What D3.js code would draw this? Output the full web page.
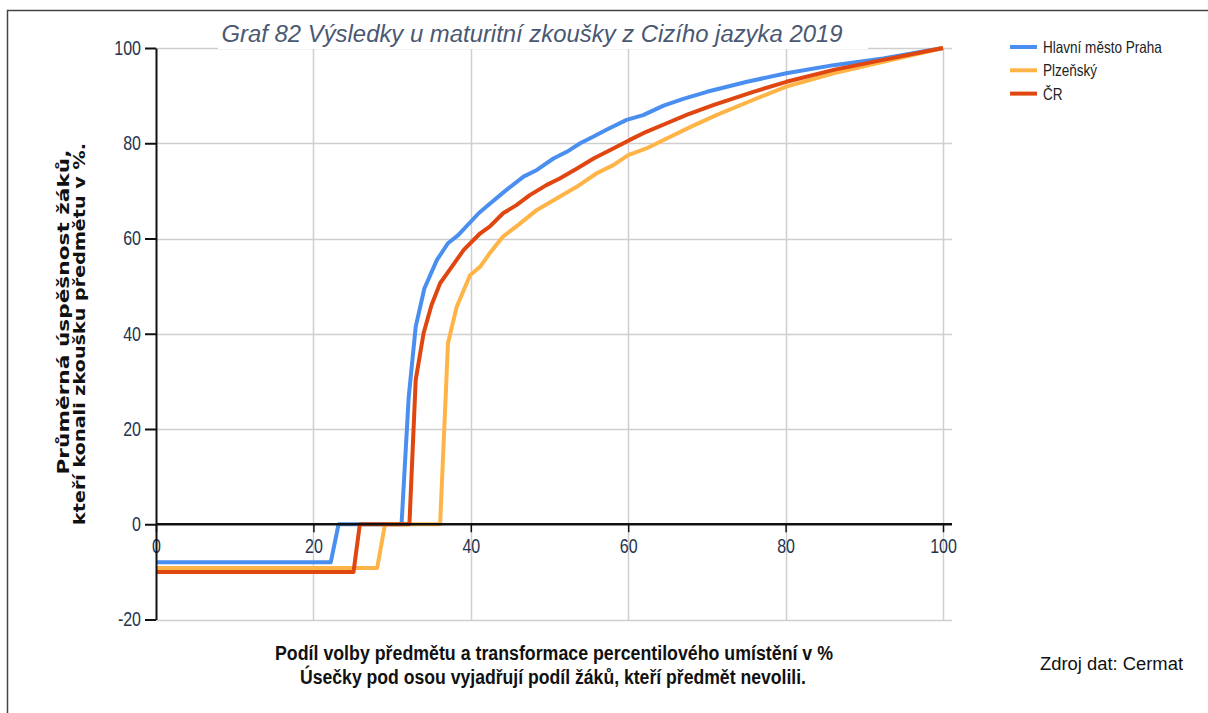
<!DOCTYPE html>
<html><head><meta charset="utf-8">
<script src="https://cdn.jsdelivr.net/npm/d3@7"></script>
<style>body{margin:0;background:#fff}svg{display:block}</style>
</head><body>
<svg id="c" width="1208" height="713"></svg>
<script>
const seriesNames = ["Hlavní město Praha", "Plzeňský", "ČR"];
const praha = [[0,-8],[22.2,-8],[23.2,0],[31.2,0],[32.1,26.5],[33.0,41.5],[34.1,49.5],[35.7,55.5],[37.1,59.0],[38.4,60.7],[41.0,65.3],[42.0,66.7],[44.3,69.9],[46.7,73.0],[48.4,74.4],[50.5,76.8],[52.2,78.2],[53.9,80.0],[55.6,81.4],[57.3,82.9],[59.8,84.9],[61.9,85.9],[64.5,87.9],[67,89.3],[70,90.8],[75.1,92.9],[80.1,94.7],[86.1,96.4],[92.4,97.8],[100,100]];
const plzensky = [[0,-9.2],[28.1,-9.2],[29.1,0],[36.1,0],[37.1,38.0],[38.2,45.6],[39.9,52.3],[41.2,54.1],[42.4,56.9],[44.1,60.4],[46.0,62.8],[48.4,66.0],[50.9,68.4],[53.5,70.9],[56.0,73.7],[58.1,75.4],[60.0,77.5],[62.3,78.9],[64.9,81.0],[68,83.5],[71.2,85.9],[76.3,89.4],[80.1,91.9],[86.1,94.7],[92.4,97.1],[100,100]];
const cr = [[0,-10],[25.1,-10],[25.9,0],[32.2,0],[33.0,30.3],[34.0,40.1],[35.0,46.0],[36.1,50.6],[37.6,54.1],[39.1,57.6],[41.2,61.1],[42.4,62.5],[44.1,65.3],[45.8,67.0],[47.5,69.1],[49.6,71.2],[51.3,72.6],[53.5,74.7],[55.6,76.8],[58.1,78.9],[60.2,80.7],[62.3,82.4],[64.9,84.2],[67.5,86.0],[70.8,88.0],[75.9,90.8],[80.1,92.9],[86.1,95.4],[92.4,97.5],[100,100]];
const xTicks = [0,20,40,60,80,100];
const yTicks = [-20,0,20,40,60,80,100];
const titleText = "Graf 82 Výsledky u maturitní zkoušky z Cizího jazyka 2019";
const yTitle = ["Průměrná úspěšnost žáků,", "kteří konali zkoušku předmětu v %."];
const xTitle = ["Podíl volby předmětu a transformace percentilového umístění v %", "Úsečky pod osou vyjadřují podíl žáků, kteří předmět nevolili."];
const sourceText = "Zdroj dat: Cermat";
const colors = ["#4a8ff0", "#ffb447", "#e0460f"];

const svg = d3.select("#c");
const x = d3.scaleLinear().domain([0,100]).range([156,943]);
const y = d3.scaleLinear().domain([-20,100]).range([619.5,48]);
const sans = "'Liberation Sans',Arial,sans-serif";
function narrowize(sel, f){
  sel.each(function(){
    const w = this.getComputedTextLength();
    d3.select(this).attr("textLength", w*f).attr("lengthAdjust","spacingAndGlyphs");
  });
}

// frame
svg.append("path").attr("d","M7.5,713 V10.5 H1208").attr("fill","none").attr("stroke","#444").attr("stroke-width",1.5);

// grid
const g = svg.append("g");
g.selectAll(".hg").data(yTicks.filter(d=>d!==0)).join("line")
  .attr("x1",156).attr("x2",952).attr("y1",d=>Math.round(y(d))+0.5).attr("y2",d=>Math.round(y(d))+0.5)
  .attr("stroke","#cfcfcf").attr("stroke-width",1.5);
g.selectAll(".vg").data(xTicks.filter(d=>d!==0)).join("line")
  .attr("x1",d=>Math.round(x(d))+0.5).attr("x2",d=>Math.round(x(d))+0.5).attr("y1",48).attr("y2",620)
  .attr("stroke","#cfcfcf").attr("stroke-width",1.5);

// lines
const line = d3.line().x(d=>x(d[0])).y(d=>y(d[1]));
[praha, plzensky, cr].forEach((s,i)=>{
  svg.append("path").datum(s).attr("d",line).attr("fill","none")
    .attr("stroke",colors[i]).attr("stroke-width",4).attr("stroke-linejoin","round");
});

// x axis at y=0
const xa = svg.append("g").attr("transform",`translate(0,${y(0)})`)
  .call(d3.axisBottom(x).tickValues(xTicks).tickSize(8).tickSizeOuter(0).tickFormat(d=>String(d)));
xa.select(".domain").attr("d","M156,0H952").attr("stroke","#111").attr("stroke-width",2.5);
xa.selectAll(".tick line").attr("stroke","#111").attr("stroke-width",1.5);
xa.selectAll(".tick text").attr("font-family",sans).attr("font-size",20).attr("fill","#243350").attr("dy","0.9em")
  .call(narrowize, 0.8);

// y axis
const ya = svg.append("g").attr("transform","translate(156,0)")
  .call(d3.axisLeft(y).tickValues(yTicks).tickSize(11).tickSizeOuter(0).tickPadding(4).tickFormat(d=>String(d)));
ya.select(".domain").attr("stroke","#111").attr("stroke-width",2);
ya.selectAll(".tick line").attr("stroke","#111").attr("stroke-width",2);
ya.selectAll(".tick text").attr("font-family",sans).attr("font-size",20).attr("fill","#243350")
  .call(narrowize, 0.8);

// title
svg.append("rect").attr("x",218).attr("y",16).attr("width",650).attr("height",33).attr("fill","#fff");
svg.append("text").attr("x",532).attr("y",42).attr("text-anchor","middle")
  .attr("font-family",sans).attr("font-style","italic").attr("font-size",23.5)
  .attr("textLength",621).attr("lengthAdjust","spacingAndGlyphs")
  .attr("fill","#4a5872").text(titleText);

// y title
[[69,312,325],[85,334,382]].forEach((p,i)=>{
  svg.append("text").attr("transform",`translate(${p[0]},${p[1]}) rotate(-90)`).attr("text-anchor","middle")
    .attr("font-family","'DejaVu Sans',Verdana,sans-serif").attr("font-weight","bold").attr("font-size",15)
    .attr("textLength",p[2]).attr("lengthAdjust","spacingAndGlyphs").attr("fill","#111").text(yTitle[i]);
});

// x title
[[554,660,558],[553,684,506]].forEach((p,i)=>{
  svg.append("text").attr("x",p[0]).attr("y",p[1]).attr("text-anchor","middle")
    .attr("font-family",sans).attr("font-weight","bold").attr("font-size",19.5)
    .attr("textLength",p[2]).attr("lengthAdjust","spacingAndGlyphs").attr("fill","#111").text(xTitle[i]);
});

// source
svg.append("text").attr("x",1040).attr("y",670).attr("font-family",sans)
  .attr("font-size",17.5).attr("textLength",143).attr("lengthAdjust","spacingAndGlyphs")
  .attr("fill","#111").text(sourceText);

// legend
const lg = svg.append("g").selectAll("g").data(seriesNames).join("g")
  .attr("transform",(d,i)=>`translate(1010,${47+i*23.3})`);
lg.append("line").attr("x1",0).attr("x2",27).attr("stroke",(d,i)=>colors[i]).attr("stroke-width",4);
lg.append("text").attr("x",33).attr("y",6).attr("font-family",sans).attr("font-size",16.5).attr("fill","#222").text(d=>d)
  .call(narrowize, 0.82);
</script>
</body></html>
